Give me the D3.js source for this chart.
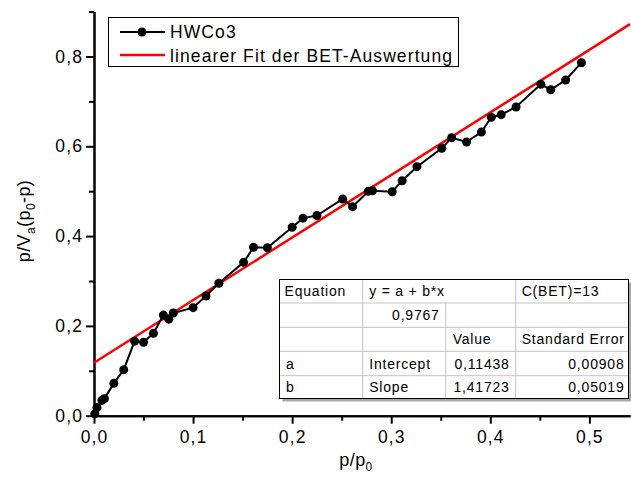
<!DOCTYPE html>
<html><head><meta charset="utf-8">
<script src="https://cdn.jsdelivr.net/npm/d3@7"></script>
<style>
body{margin:0;background:#fff}
svg{display:block;font-family:"Liberation Sans",Arial,sans-serif}
</style>
</head><body>
<svg id="c" width="631" height="482"></svg>
<script>
// ---- data ----
const relPressure = [0.0008,0.003,0.008,0.0105,0.020,0.030,0.041,0.050,0.060,0.070,0.0755,0.080,0.100,0.113,0.126,0.151,0.161,0.175,0.200,0.211,0.225,0.251,0.261,0.277,0.281,0.301,0.311,0.326,0.351,0.361,0.376,0.391,0.401,0.411,0.426,0.451,0.461,0.476,0.492];
const betValues = [0.004,0.018,0.034,0.038,0.072,0.1025,0.166,0.1635,0.1835,0.224,0.215,0.2287,0.2406,0.2666,0.2949,0.3416,0.375,0.374,0.4196,0.440,0.4458,0.4826,0.4655,0.4998,0.5011,0.4989,0.5234,0.5546,0.5955,0.6192,0.6096,0.6318,0.6646,0.6704,0.6875,0.738,0.726,0.7477,0.7862];
const fitX = [0, 0.541];
const fitY = [0.118, 0.872];
const xMajorTicks = [0,0.1,0.2,0.3,0.4,0.5];
const xMinorTicks = [0.05,0.15,0.25,0.35,0.45];
const yMajorTicks = [0,0.2,0.4,0.6,0.8];
const yMinorTicks = [0.1,0.3,0.5,0.7,0.9];
const seriesNames = ["HWCo3","linearer Fit der BET-Auswertung"];
const tableRow1 = ["Equation","y = a + b*x","C(BET)=13"];
const tableRow2 = ["","0,9767","",""];
const tableRow3 = ["","","Value","Standard Error"];
const tableRow4 = ["a","Intercept","0,11438","0,00908"];
const tableRow5 = ["b","Slope","1,41723","0,05019"];

const svg = d3.select("#c");
const x = d3.scaleLinear().domain([0,0.541]).range([94,630]);
const y = d3.scaleLinear().domain([0,0.9]).range([415.7,11.6]);
const fmt = v => d3.format(".1f")(v).replace(".", ",");
const LS = 1.1;

// axes
function styleAxis(g){
  g.select(".domain").attr("stroke","#000").attr("stroke-width",2);
  g.selectAll(".tick line").attr("stroke","#000").attr("stroke-width",2);
  g.selectAll("text").attr("fill","#000").attr("font-size",17.5)
    .attr("letter-spacing",LS).attr("font-family","Liberation Sans, Arial, sans-serif");
}
svg.append("g").attr("transform",`translate(0,${y(0)})`)
  .call(d3.axisBottom(x).tickValues(xMinorTicks).tickSize(5).tickSizeOuter(0).tickFormat(""))
  .call(styleAxis);
svg.append("g").attr("transform",`translate(0,${y(0)})`)
  .call(d3.axisBottom(x).tickValues(xMajorTicks).tickSize(8).tickSizeOuter(0).tickPadding(7).tickFormat(fmt))
  .call(styleAxis);
svg.append("g").attr("transform",`translate(${x(0)},0)`)
  .call(d3.axisLeft(y).tickValues(yMinorTicks).tickSize(5).tickSizeOuter(0).tickFormat(""))
  .call(styleAxis);
svg.append("g").attr("transform",`translate(${x(0)},0)`)
  .call(d3.axisLeft(y).tickValues(yMajorTicks).tickSize(8).tickSizeOuter(0).tickPadding(3).tickFormat(fmt))
  .call(styleAxis);

// axis titles
const yt = svg.append("text").attr("transform","translate(30,221) rotate(-90)")
  .attr("text-anchor","middle").attr("font-size",18).attr("letter-spacing",0.4);
yt.append("tspan").text("p/V");
yt.append("tspan").attr("font-size",12).attr("dy",5).text("a");
yt.append("tspan").attr("dy",-5).text("(p");
yt.append("tspan").attr("font-size",12).attr("dy",5).text("0");
yt.append("tspan").attr("dy",-5).text("-p)");

const xt = svg.append("text").attr("x",356).attr("y",466)
  .attr("text-anchor","middle").attr("font-size",18).attr("letter-spacing",0.4);
xt.append("tspan").text("p/p");
xt.append("tspan").attr("font-size",12).attr("dy",5).text("0");

// fit line
svg.append("line")
  .attr("x1",x(fitX[0])).attr("y1",y(fitY[0]))
  .attr("x2",x(fitX[1])).attr("y2",y(fitY[1]))
  .attr("stroke","#ff0000").attr("stroke-width",2.5);

// data series
const pts = relPressure.map((v,i)=>[v,betValues[i]]);
svg.append("path").datum(pts)
  .attr("d", d3.line().x(d=>x(d[0])).y(d=>y(d[1])))
  .attr("fill","none").attr("stroke","#000").attr("stroke-width",2);
svg.append("g").selectAll("circle").data(pts).join("circle")
  .attr("cx",d=>x(d[0])).attr("cy",d=>y(d[1])).attr("r",4.5).attr("fill","#000");

// legend
const lg = svg.append("g").attr("font-size",17.5).attr("letter-spacing",LS);
lg.append("rect").attr("x",108.5).attr("y",17.5).attr("width",350).attr("height",49)
  .attr("fill","#fff").attr("stroke","#000").attr("stroke-width",1);
lg.append("line").attr("x1",120).attr("x2",165).attr("y1",32).attr("y2",32).attr("stroke","#000").attr("stroke-width",2);
lg.append("circle").attr("cx",142).attr("cy",32).attr("r",4.5).attr("fill","#000");
lg.append("line").attr("x1",120).attr("x2",165).attr("y1",55).attr("y2",55).attr("stroke","#ff0000").attr("stroke-width",2.5);
lg.append("text").attr("x",170).attr("y",38).text(seriesNames[0]);
lg.append("text").attr("x",170).attr("y",61.5).text(seriesNames[1]);

// table
const rowsY = [279.5,303,327.3,351.3,375.7,398.5];
const colsX = [279.5,362.7,445.7,515.7,628.5];
const tb = svg.append("g").attr("font-size",14).attr("letter-spacing",0.8);
tb.append("rect").attr("x",colsX[0]+3).attr("y",rowsY[0]+3).attr("width",colsX[4]-colsX[0]).attr("height",rowsY[5]-rowsY[0]).attr("fill","#a8a8a8");
tb.append("rect").attr("x",colsX[0]).attr("y",rowsY[0]).attr("width",colsX[4]-colsX[0]).attr("height",rowsY[5]-rowsY[0]).attr("fill","#fff");
for(let i=1;i<5;i++) tb.append("line").attr("x1",colsX[0]).attr("x2",colsX[4]).attr("y1",rowsY[i]).attr("y2",rowsY[i]).attr("stroke","#c4c4c4");
[1,3].forEach(c=>tb.append("line").attr("x1",colsX[c]).attr("x2",colsX[c]).attr("y1",rowsY[0]).attr("y2",rowsY[5]).attr("stroke","#c4c4c4"));
tb.append("line").attr("x1",colsX[2]).attr("x2",colsX[2]).attr("y1",rowsY[1]).attr("y2",rowsY[5]).attr("stroke","#c4c4c4");
tb.append("rect").attr("x",colsX[0]).attr("y",rowsY[0]).attr("width",colsX[4]-colsX[0]).attr("height",rowsY[5]-rowsY[0]).attr("fill","none").attr("stroke","#000");
function cell(row,col,txt,align,pad){
  if(!txt) return;
  const base = (rowsY[row]+rowsY[row+1])/2 + 5;
  const t = tb.append("text").attr("y",base).text(txt);
  if(align==="r") t.attr("x",colsX[col+1]-pad).attr("text-anchor","end");
  else t.attr("x",colsX[col]+pad);
}
cell(0,0,tableRow1[0],"l",5); cell(0,1,tableRow1[1],"l",6.5); cell(0,3,tableRow1[2],"l",6);
tableRow2.forEach((t,i)=>cell(1,i,t,i===1?"r":"l",6));
tableRow3.forEach((t,i)=>cell(2,i,t,"l",i===3?6:7));
tableRow4.forEach((t,i)=>cell(3,i,t,i>=2?"r":"l",i===3?4:(i===2?6:6.5)));
tableRow5.forEach((t,i)=>cell(4,i,t,i>=2?"r":"l",i===3?4:(i===2?6:6.5)));
</script>
</body></html>
